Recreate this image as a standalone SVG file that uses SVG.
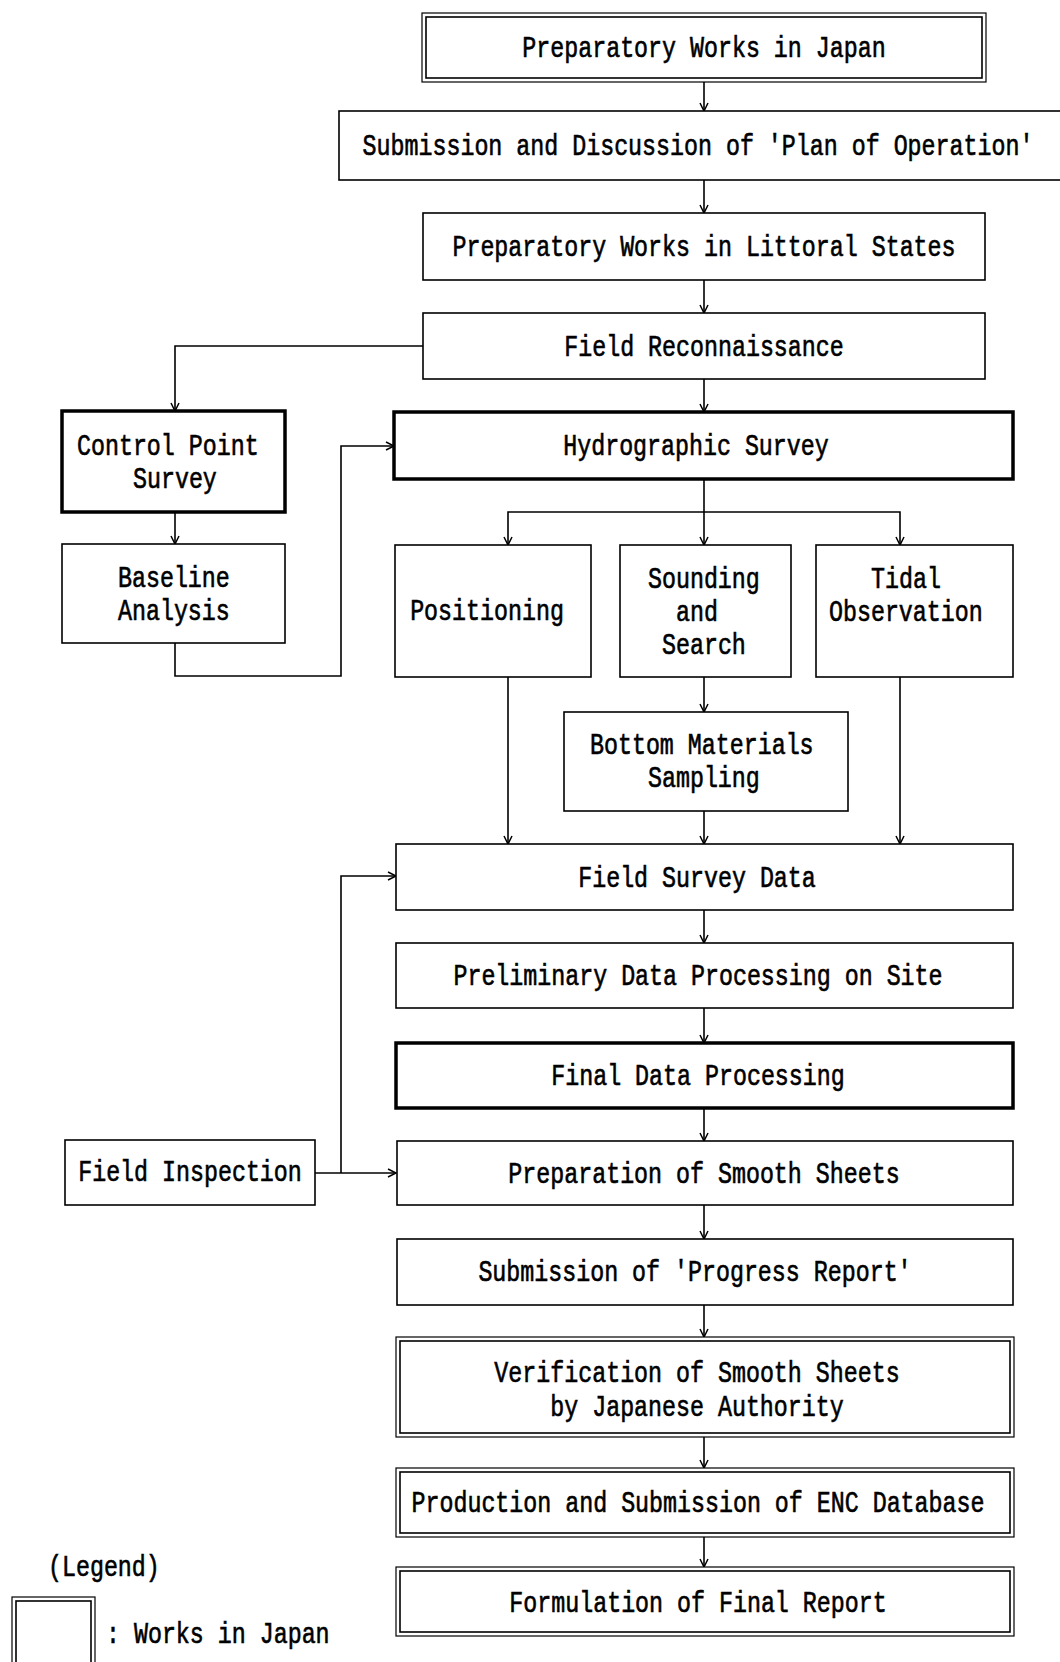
<svg xmlns="http://www.w3.org/2000/svg" width="1060" height="1662" viewBox="0 0 1060 1662">
<style>
.b{fill:#fff;stroke:#000;stroke-width:1.6}
.k{fill:#fff;stroke:#000;stroke-width:3.5}
.o{fill:#fff;stroke:#000;stroke-width:1.2}
.i{fill:none;stroke:#000;stroke-width:1.6}
.c{fill:none;stroke:#000;stroke-width:1.6}
text{font-family:"Liberation Mono","DejaVu Sans Mono",monospace;font-size:23.3px;fill:#000;stroke:#000;stroke-width:0.5}
.m{text-anchor:middle}
</style>
<defs>
<marker id="ah" viewBox="-10 -6 12 12" refX="0" refY="0" markerWidth="12" markerHeight="12" markerUnits="userSpaceOnUse" orient="auto">
<path d="M-8,-4 L0,0 L-8,4" fill="none" stroke="#000" stroke-width="1.5"/>
</marker>
</defs>

<g id="connectors" class="c" marker-end="url(#ah)">
<line x1="704" y1="82" x2="704" y2="111"/>
<line x1="704" y1="180" x2="704" y2="213"/>
<line x1="704" y1="280" x2="704" y2="313"/>
<line x1="704" y1="379" x2="704" y2="412"/>
<polyline points="423,346 175,346 175,411"/>
<line x1="175" y1="512" x2="175" y2="544"/>
<polyline points="175,643 175,676 341,676 341,446 394,446"/>
<line x1="704" y1="479" x2="704" y2="545"/>
<polyline points="704,512 508,512 508,545"/>
<polyline points="704,512 900,512 900,545"/>
<line x1="508" y1="677" x2="508" y2="844"/>
<line x1="704" y1="677" x2="704" y2="712"/>
<line x1="704" y1="811" x2="704" y2="844"/>
<line x1="900" y1="677" x2="900" y2="844"/>
<line x1="704" y1="910" x2="704" y2="943"/>
<line x1="704" y1="1008" x2="704" y2="1043"/>
<line x1="704" y1="1108" x2="704" y2="1141"/>
<line x1="704" y1="1205" x2="704" y2="1239"/>
<line x1="704" y1="1305" x2="704" y2="1337"/>
<line x1="704" y1="1437" x2="704" y2="1468"/>
<line x1="704" y1="1537" x2="704" y2="1567"/>
<line x1="315" y1="1173" x2="396" y2="1173"/>
<polyline points="341,1173 341,876 396,876"/>
</g>

<g id="prep-japan">
<rect class="o" x="422" y="13" width="564" height="69"/>
<rect class="i" x="426" y="17" width="556" height="61"/>
<text class="m" x="704" y="0" transform="translate(0,57) scale(1 1.25)">Preparatory Works in Japan</text>
</g>
<g id="plan-of-operation">
<rect class="b" x="339" y="111" width="730" height="69"/>
<text class="m" x="698" y="0" transform="translate(0,155) scale(1 1.25)">Submission and Discussion of 'Plan of Operation'</text>
</g>
<g id="prep-littoral">
<rect class="b" x="423" y="213" width="562" height="67"/>
<text class="m" x="704" y="0" transform="translate(0,256) scale(1 1.25)">Preparatory Works in Littoral States</text>
</g>
<g id="field-recon">
<rect class="b" x="423" y="313" width="562" height="66"/>
<text class="m" x="704" y="0" transform="translate(0,356) scale(1 1.25)">Field Reconnaissance</text>
</g>
<g id="hydro">
<rect class="k" x="394" y="412" width="619" height="67"/>
<text class="m" x="696" y="0" transform="translate(0,455) scale(1 1.25)">Hydrographic Survey</text>
</g>
<g id="control-point">
<rect class="k" x="62" y="411" width="223" height="101"/>
<text x="77" y="0" transform="translate(0,455) scale(1 1.25)">Control Point</text>
<text x="133" y="0" transform="translate(0,488) scale(1 1.25)">Survey</text>
</g>
<g id="baseline">
<rect class="b" x="62" y="544" width="223" height="99"/>
<text x="118" y="0" transform="translate(0,587) scale(1 1.25)">Baseline</text>
<text x="118" y="0" transform="translate(0,620) scale(1 1.25)">Analysis</text>
</g>
<g id="positioning">
<rect class="b" x="395" y="545" width="196" height="132"/>
<text class="m" x="487" y="0" transform="translate(0,620) scale(1 1.25)">Positioning</text>
</g>
<g id="sounding">
<rect class="b" x="620" y="545" width="171" height="132"/>
<text x="648" y="0" transform="translate(0,588) scale(1 1.25)">Sounding</text>
<text x="676" y="0" transform="translate(0,621) scale(1 1.25)">and</text>
<text x="662" y="0" transform="translate(0,654) scale(1 1.25)">Search</text>
</g>
<g id="tidal">
<rect class="b" x="816" y="545" width="197" height="132"/>
<text x="871" y="0" transform="translate(0,588) scale(1 1.25)">Tidal</text>
<text x="829" y="0" transform="translate(0,621) scale(1 1.25)">Observation</text>
</g>
<g id="bottom-materials">
<rect class="b" x="564" y="712" width="284" height="99"/>
<text x="590" y="0" transform="translate(0,754) scale(1 1.25)">Bottom Materials</text>
<text x="648" y="0" transform="translate(0,787) scale(1 1.25)">Sampling</text>
</g>
<g id="field-survey-data">
<rect class="b" x="396" y="844" width="617" height="66"/>
<text class="m" x="697" y="0" transform="translate(0,887) scale(1 1.25)">Field Survey Data</text>
</g>
<g id="preliminary">
<rect class="b" x="396" y="943" width="617" height="65"/>
<text class="m" x="698" y="0" transform="translate(0,985) scale(1 1.25)">Preliminary Data Processing on Site</text>
</g>
<g id="final-data">
<rect class="k" x="396" y="1043" width="617" height="65"/>
<text class="m" x="698" y="0" transform="translate(0,1085) scale(1 1.25)">Final Data Processing</text>
</g>
<g id="field-inspection">
<rect class="b" x="65" y="1140" width="250" height="65"/>
<text class="m" x="190" y="0" transform="translate(0,1181) scale(1 1.25)">Field Inspection</text>
</g>
<g id="smooth-sheets">
<rect class="b" x="397" y="1141" width="616" height="64"/>
<text class="m" x="704" y="0" transform="translate(0,1183) scale(1 1.25)">Preparation of Smooth Sheets</text>
</g>
<g id="progress-report">
<rect class="b" x="397" y="1239" width="616" height="66"/>
<text class="m" x="695" y="0" transform="translate(0,1281) scale(1 1.25)">Submission of 'Progress Report'</text>
</g>
<g id="verification">
<rect class="o" x="396" y="1337" width="618" height="100"/>
<rect class="i" x="400" y="1341" width="610" height="92"/>
<text class="m" x="697" y="0" transform="translate(0,1382) scale(1 1.25)">Verification of Smooth Sheets</text>
<text class="m" x="697" y="0" transform="translate(0,1416) scale(1 1.25)">by Japanese Authority</text>
</g>
<g id="enc-database">
<rect class="o" x="396" y="1468" width="618" height="69"/>
<rect class="i" x="400" y="1472" width="610" height="61"/>
<text class="m" x="698" y="0" transform="translate(0,1512) scale(1 1.25)">Production and Submission of ENC Database</text>
</g>
<g id="final-report">
<rect class="o" x="396" y="1567" width="618" height="69"/>
<rect class="i" x="400" y="1571" width="610" height="61"/>
<text class="m" x="698" y="0" transform="translate(0,1612) scale(1 1.25)">Formulation of Final Report</text>
</g>
<g id="legend">
<text x="48" y="0" transform="translate(0,1576) scale(1 1.25)">(Legend)</text>
<rect class="o" x="12" y="1597" width="83" height="80"/>
<rect class="i" x="16" y="1601" width="75" height="72"/>
<text x="106" y="0" transform="translate(0,1643) scale(1 1.25)">: Works in Japan</text>
</g>
</svg>
